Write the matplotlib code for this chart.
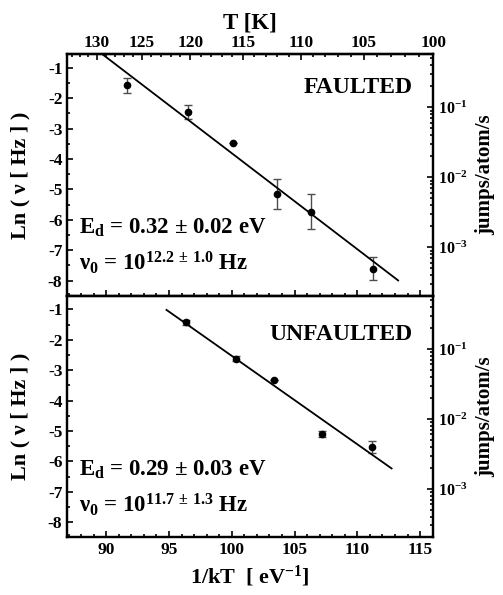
import numpy as np
import matplotlib
matplotlib.use('Agg')
import matplotlib.pyplot as plt
from matplotlib.ticker import MultipleLocator, FixedLocator, NullFormatter, LogLocator

plt.rcParams['font.family'] = 'Liberation Serif'
plt.rcParams['font.weight'] = 'bold'
plt.rcParams['axes.labelweight'] = 'bold'
plt.rcParams['axes.unicode_minus'] = False
plt.rcParams['mathtext.fontset'] = 'custom'
plt.rcParams['mathtext.rm'] = 'Liberation Serif:bold'
plt.rcParams['mathtext.it'] = 'Liberation Serif:bold'
plt.rcParams['mathtext.bf'] = 'Liberation Serif:bold'
plt.rcParams['axes.linewidth'] = 1.6

k_B = 8.617e-5  # eV/K

# ---- data: 1/kT [eV^-1] vs ln(nu) ----
x_faulted = [91.68, 96.53, 100.07, 103.62, 106.28, 111.26]
y_faulted = [-1.58, -2.44, -3.48, -5.15, -5.73, -7.61]
err_faulted = [0.25, 0.23, 0.0, 0.48, 0.58, 0.38]
fit_faulted = (-0.316, 27.79)       # slope, intercept
fit_x_faulted = (89.5, 113.25)

x_unfaulted = [96.33, 100.31, 103.38, 107.2, 111.2]
y_unfaulted = [-1.42, -2.62, -3.32, -5.10, -5.52]
err_unfaulted = [0.08, 0.07, 0.0, 0.10, 0.19]
fit_unfaulted = (-0.291, 26.57)
fit_x_unfaulted = (94.8, 112.73)

T_ticks = [130, 125, 120, 115, 110, 105, 100]
rate_ticks = [1e-1, 1e-2, 1e-3]
rate_labels = [r'10$^{-1}$', r'10$^{-2}$', r'10$^{-3}$']

xlim = (86.9, 116.05)
ylim = (-8.5, -0.55)


def kt_to_T(x):
    x = np.asarray(x, dtype=float)
    with np.errstate(divide='ignore'):
        return 1.0 / (k_B * x)


def bold_ticks(axis):
    for t in axis.get_ticklabels():
        t.set_fontweight('bold')


def draw_panel(ax, xs, ys, errs, fit, fit_x, name, txt_y, ed, nu0):
    ax.errorbar(xs, ys, yerr=errs, fmt='o', color='black', ms=4.5,
                ecolor='0.3', elinewidth=1.0, capsize=3, capthick=1.0)
    xx = np.array(fit_x)
    ax.plot(xx, fit[0] * xx + fit[1], color='black', lw=1.3)
    ax.set_xlim(*xlim)
    ax.set_ylim(*ylim)
    ax.xaxis.set_major_locator(MultipleLocator(5))
    ax.xaxis.set_minor_locator(MultipleLocator(1))
    ax.yaxis.set_major_locator(MultipleLocator(1))
    ax.yaxis.set_minor_locator(MultipleLocator(0.5))
    ax.tick_params(which='both', direction='in', top=False, right=False,
                   width=1.2, labelsize=12.5)
    ax.tick_params(which='major', length=4.5)
    ax.tick_params(which='minor', length=2.2)
    bold_ticks(ax.xaxis)
    bold_ticks(ax.yaxis)
    ax.set_ylabel(r'Ln ( ν [ Hz ] )', fontsize=16)
    ax.yaxis.set_label_coords(-0.1, 0.5)
    ax.text(0.944, txt_y, name, transform=ax.transAxes, ha='right',
            va='baseline', fontsize=17)
    ax.text(0.032, 0.255, r'E$_{\mathrm{d}}$ = ' + ed + ' eV',
            transform=ax.transAxes, ha='left', va='baseline', fontsize=16.5)
    ax.text(0.032, 0.105, r'ν$_{0}$ = 10$^{' + nu0 + r'}$ Hz',
            transform=ax.transAxes, ha='left', va='baseline', fontsize=16.5)

    tw = ax.twinx()
    tw.set_yscale('log')
    tw.set_ylim(np.exp(ylim[0]), np.exp(ylim[1]))
    tw.yaxis.set_major_locator(FixedLocator(rate_ticks))
    tw.set_yticklabels(rate_labels)
    tw.yaxis.set_minor_locator(LogLocator(base=10, subs=np.arange(2, 10)))
    tw.yaxis.set_minor_formatter(NullFormatter())
    tw.tick_params(which='both', direction='in', width=1.2, labelsize=11.5)
    tw.tick_params(which='major', length=4.5)
    tw.tick_params(which='minor', length=2.2)
    tw.set_ylabel('jumps/atom/s', fontsize=15)
    tw.yaxis.set_label_coords(1.115, 0.5)
    return tw


fig = plt.figure(figsize=(5.03, 5.95), dpi=100)
ax1 = fig.add_axes([0.1338, 0.503, 0.7276, 0.406])
ax2 = fig.add_axes([0.1338, 0.097, 0.7276, 0.406])

draw_panel(ax1, x_faulted, y_faulted, err_faulted, fit_faulted, fit_x_faulted,
           'FAULTED', 0.838, r'0.32 $\pm$ 0.02', r'12.2\,\pm\,1.0')
draw_panel(ax2, x_unfaulted, y_unfaulted, err_unfaulted, fit_unfaulted,
           fit_x_unfaulted, 'UNFAULTED', 0.816, r'0.29 $\pm$ 0.03',
           r'11.7\,\pm\,1.3')

ax1.tick_params(labelbottom=False)
ax2.set_xlabel(r'1/kT  [ eV$^{-1}$]', fontsize=16, labelpad=4)

sec = ax1.secondary_xaxis('top', functions=(kt_to_T, kt_to_T))
sec.xaxis.set_major_locator(FixedLocator(T_ticks))
sec.xaxis.set_minor_locator(FixedLocator(np.arange(100, 134)))
sec.xaxis.set_minor_formatter(NullFormatter())
sec.tick_params(which='both', direction='in', width=1.2, labelsize=12.5, pad=2)
sec.tick_params(which='major', length=4.5)
sec.tick_params(which='minor', length=2.2)
sec.set_xlabel('T [K]', fontsize=16.5, labelpad=5)

fig.savefig('out.png', dpi=100)
